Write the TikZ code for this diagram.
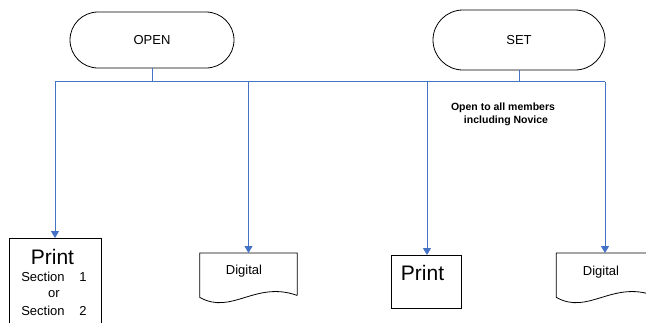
\documentclass[tikz,border=0pt]{standalone}
\usepackage{fontspec}
\setmainfont{Liberation Sans}
\usetikzlibrary{arrows.meta}
\definecolor{conblue}{RGB}{68,114,196}
\begin{document}
\begin{tikzpicture}[x=1pt,y=-1pt,
  term/.style={draw=black,line width=0.8pt,rectangle,inner sep=0pt,font=\fontsize{13}{15}\selectfont},
  boxshape/.style={draw=black,line width=0.8pt,rectangle,inner sep=0pt},
  ghost/.style={rectangle,inner sep=0pt},
  doc/.style={draw=black,line width=0.8pt},
  bus/.style={draw=conblue,line width=1pt},
  arr/.style={draw=conblue,line width=1pt,-{Triangle[width=8pt,length=7pt]}},
  big/.style={font=\fontsize{21}{24}\selectfont,inner sep=0pt},
  mid/.style={font=\fontsize{13}{15}\selectfont,inner sep=0pt},
  note/.style={font=\fontsize{10.5}{13}\selectfont\bfseries,inner sep=0pt}]
\clip (0,0) rectangle (646,322);
\fill[white] (0,0) rectangle (646,322);

% terminators
\node[term,minimum width=164pt,minimum height=56pt,rounded corners=28pt] (open) at (152,40) {OPEN};
\node[term,minimum width=172pt,minimum height=60pt,rounded corners=30pt] (set) at (519,40) {SET};

% targets
\node[boxshape,anchor=north,minimum width=92pt,minimum height=110pt] (print1) at (55,238) {};
\node[ghost,anchor=north,minimum width=97pt,minimum height=44pt] (dig1) at (248.5,253) {};
\node[boxshape,anchor=north west,minimum width=70pt,minimum height=53pt] (print2) at (391,255) {};
\node[ghost,anchor=north,minimum width=97pt,minimum height=44pt] (dig2) at (605,253) {};

% document shapes
\draw[doc] ([yshift=2pt]dig1.south east) -- (dig1.north east) -- (dig1.north west) -- (dig1.south west)
  .. controls +(32,18) and +(-42,-15) .. ([yshift=2pt]dig1.south east);
\draw[doc] ([yshift=2pt]dig2.south east) -- (dig2.north east) -- (dig2.north west) -- (dig2.south west)
  .. controls +(32,18) and +(-42,-15) .. ([yshift=2pt]dig2.south east);

% bus
\coordinate (jo) at (152,81.5);
\coordinate (js) at (519,81.5);
\coordinate (b1) at (55,81.5);
\coordinate (b2) at (248.5,81.5);
\coordinate (b3) at (427,81.5);
\coordinate (b4) at (605,81.5);
\draw[bus] (open.south) -- (jo);
\draw[bus] (set.south) -- (js);
\draw[bus] (b1) -- (b4);
\draw[arr] (b1) -- (print1.north);
\draw[arr] (b2) -- (dig1.north);
\draw[arr] (b3) -- (b3 |- print2.north);
\draw[arr] (b4) -- (dig2.north);

% texts
\node[big] (p1t) at (52.5,257) {Print};
\node[mid] (s1a) at (43,277) {Section};
\node[mid] (s1b) at (83,277) {1};
\node[mid] (or) at (54,294) {or};
\node[mid] (s2a) at (43,311) {Section};
\node[mid] (s2b) at (83,311) {2};
\node[mid] (d1t) at (244,271.5) {Digital};
\node[big] (p2t) at (422.5,273) {Print};
\node[mid] (d2t) at (601,272) {Digital};
\node[note] (n1) at (503,107.5) {Open to all members};
\node[note] (n2) at (506,120.5) {including Novice};
\end{tikzpicture}
\end{document}
